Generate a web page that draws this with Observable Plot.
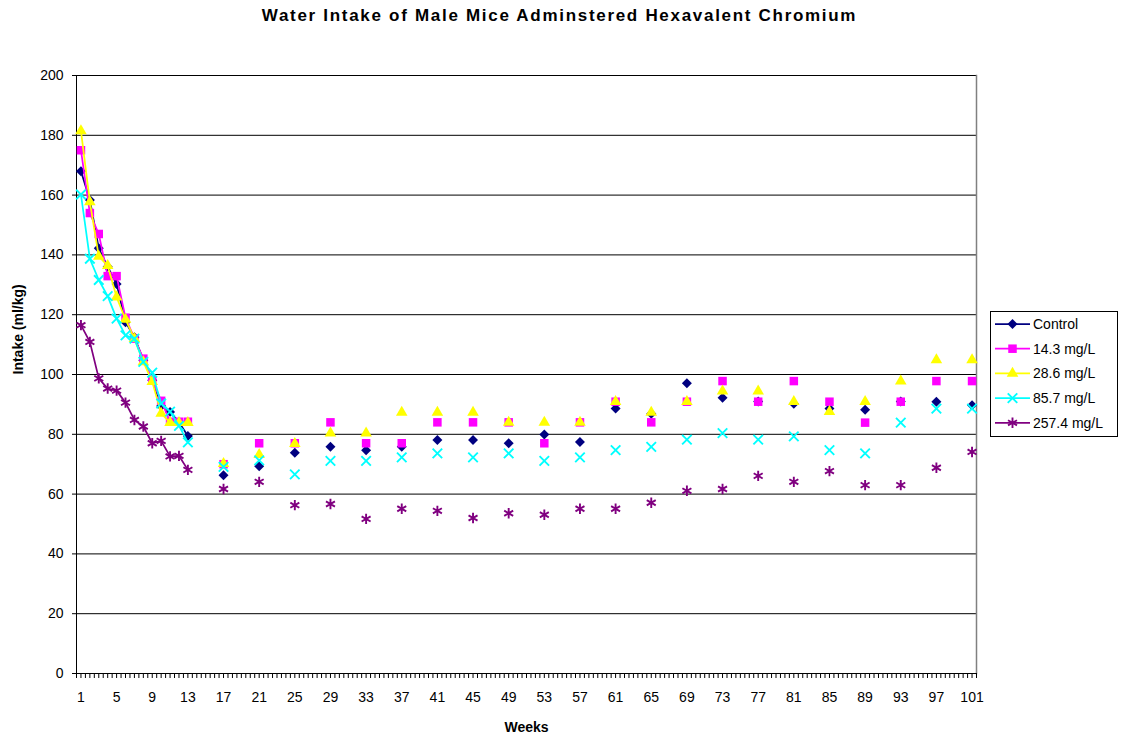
<!DOCTYPE html>
<html><head><meta charset="utf-8">
<script src="https://cdn.jsdelivr.net/npm/d3@7"></script>
<script src="https://cdn.jsdelivr.net/npm/@observablehq/plot@0.6"></script>
<style>
body{margin:0;background:#fff;font-family:"Liberation Sans",Arial,sans-serif;}
#wrap{position:relative;width:1125px;height:738px;overflow:hidden;}
#title{height:40px;line-height:32px;text-align:center;font-weight:bold;font-size:17px;letter-spacing:1.7px;padding-right:6px;color:#000;}
#legend{position:absolute;left:990px;top:311px;width:128px;height:126px;border:1px solid #000;box-sizing:border-box;background:#fff;}
</style></head><body>
<div id="wrap">
<div id="title">Water Intake of Male Mice Adminstered Hexavalent Chromium</div>
<div id="chart"></div>
<div id="legend"></div>
</div>
<script>
const weeks = [1,2,3,4,5,6,7,8,9,10,11,12,13,17,21,25,29,33,37,41,45,49,53,57,61,65,69,73,77,81,85,89,93,97,101];
const control = [168,158.4,142.2,136,130.3,117.5,112.5,104.8,98.1,89.5,87.5,84,79.4,
  66.3,69.3,73.8,75.8,74.7,75.8,78.1,78.1,77,79.9,77.4,88.6,86.9,97.1,92.2,91,90.2,88.6,88.2,91,90.9,89.7];
const dose14 = [175,154,147,132.9,132.9,119,112,105.3,98.1,91.2,84.2,84.2,84.2,
  70,77,77,84,77,77,84,84,84,77,84,90.9,84,90.9,97.8,90.9,97.8,90.9,83.9,90.9,97.8,97.8];
const dose28 = [181.5,157.7,139.5,136.4,125.9,118.4,112,104.2,97.6,87,83.9,83.9,83.9,
  70.2,73.2,76.9,80.4,80.4,87.3,87.3,87.3,84,84,84,90.9,87.3,90.9,94.4,94.4,90.9,87.6,90.9,97.8,104.9,104.9];
const dose85 = [160.2,138.7,131.6,126.2,118.7,113.1,112,104.2,100.6,90.3,87.6,82.8,77.3,
  69.1,71.3,66.6,71.1,71.1,72.3,73.6,72.3,73.6,71.1,72.3,74.7,75.8,78.2,80.4,78.2,79.3,74.7,73.6,83.9,88.6,88.6];
const dose257 = [116.5,110.9,98.7,95.3,94.6,90.6,84.8,82.6,77,77.8,72.6,72.8,68.1,
  61.7,64.1,56.3,56.7,51.7,55.1,54.4,52,53.6,53.1,55.1,55.1,57.1,61.1,61.7,66.1,64.1,67.7,63,63,68.8,74.1];
const seriesNames = ["Control","14.3 mg/L","28.6 mg/L","85.7 mg/L","257.4 mg/L"];
const seriesValues = [control, dose14, dose28, dose85, dose257];
const seriesColors = ["#000080","#FF00FF","#FFFF00","#00FFFF","#800080"];
const seriesSymbols = ["diamond2","square","triangle","times","asterisk"];
const seriesR = [4.5,4.8,4.3,4.4,4.9];
const yTicks = [0,20,40,60,80,100,120,140,160,180,200];
const xTickLabels = [1,5,9,13,17,21,25,29,33,37,41,45,49,53,57,61,65,69,73,77,81,85,89,93,97,101];
const xMinorTicks = d3.range(0.5, 101.51, 0.5);

const strokeSym = s => s === "times" || s === "asterisk";

const seriesMarks = [];
seriesNames.forEach((name, i) => {
  const data = weeks.map((w, j) => ({week: w, value: seriesValues[i][j], series: name}));
  seriesMarks.push(Plot.line(data.filter(d => d.week <= 13), {x: "week", y: "value", stroke: seriesColors[i], strokeWidth: 1.75}));
  const sym = seriesSymbols[i];
  seriesMarks.push(Plot.dot(data, strokeSym(sym)
    ? {x: "week", y: "value", symbol: () => sym, r: seriesR[i], stroke: seriesColors[i], strokeWidth: 1.9, fill: "none"}
    : {x: "week", y: "value", symbol: () => sym, r: seriesR[i], fill: seriesColors[i], stroke: "none"}));
});

const chart = Plot.plot({
  width: 1125, height: 698,
  marginLeft: 76, marginRight: 149, marginTop: 35, marginBottom: 65,
  x: {domain: [0.5, 101.5]},
  y: {domain: [0, 200]},
  symbol: {type: "identity"},
  style: {fontFamily: "'Liberation Sans', Arial, sans-serif", fontSize: "14px", color: "#000", background: "#fff"},
  marks: [
    Plot.gridY(yTicks, {stroke: "#000", strokeOpacity: 1}),
    Plot.frame({anchor: "right", stroke: "#808080", strokeWidth: 1.5}),
    Plot.axisY(yTicks, {tickSize: 4, tickPadding: 9, label: null, fontSize: 14}),
    Plot.axisX(xMinorTicks, {tickSize: 5, tickFormat: () => "", label: null}),
    Plot.axisX(xTickLabels, {tickSize: 0, tickPadding: 19, label: null, fontSize: 14}),
    Plot.ruleX([0.5], {stroke: "#000"}),
    Plot.ruleY([0], {stroke: "#000"}),
    Plot.text(["Intake (ml/kg)"], {frameAnchor: "left", rotate: -90, dx: -58, fontWeight: "bold", fontSize: 14}),
    Plot.text(["Weeks"], {frameAnchor: "bottom", dy: 58, fontWeight: "bold", fontSize: 14}),
    ...seriesMarks
  ]
});
document.getElementById("chart").appendChild(chart);

// legend
const lg = d3.select("#legend").append("svg").attr("width", 126).attr("height", 124)
  .style("font-family", "'Liberation Sans', Arial, sans-serif").style("font-size", "14px");
const symMap = {diamond2: d3.symbolDiamond2, square: d3.symbolSquare, triangle: d3.symbolTriangle, times: d3.symbolTimes, asterisk: d3.symbolAsterisk};
seriesNames.forEach((name, i) => {
  const cy = 12 + i * 24.7;
  const g = lg.append("g").attr("transform", `translate(0,${cy})`);
  g.append("line").attr("x1", 4).attr("x2", 39).attr("y1", 0).attr("y2", 0).attr("stroke", seriesColors[i]).attr("stroke-width", 1.75);
  const sym = seriesSymbols[i];
  const path = g.append("path").attr("transform", "translate(21.5,0)")
    .attr("d", d3.symbol(symMap[sym], Math.PI * seriesR[i] * seriesR[i])());
  if (strokeSym(sym)) path.attr("fill", "none").attr("stroke", seriesColors[i]).attr("stroke-width", 1.9);
  else path.attr("fill", seriesColors[i]);
  g.append("text").attr("x", 42).attr("y", 0).attr("dy", "0.35em").attr("fill", "#000").text(name);
});
</script>
</body></html>
